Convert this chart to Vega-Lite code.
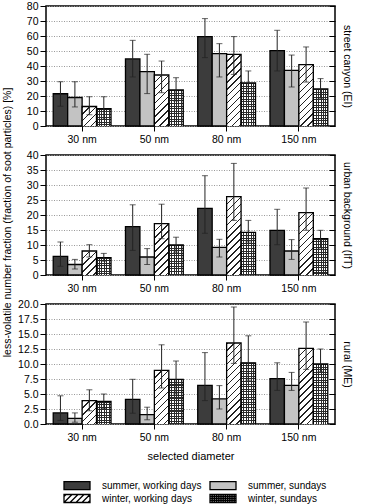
{
  "$schema": "https://vega.github.io/schema/vega-lite/v6.json",
  "padding": {"left": 1, "top": 0, "right": 0, "bottom": 0},
  "data": {
    "values": [
      {"site": "EI", "size": "30 nm", "series": "summer, working days", "value": 21.5, "lo": 13.2, "hi": 29.5},
      {"site": "EI", "size": "30 nm", "series": "summer, sundays", "value": 19, "lo": 12.7, "hi": 29.5},
      {"site": "EI", "size": "30 nm", "series": "winter, working days", "value": 13, "lo": 7.5, "hi": 19.5},
      {"site": "EI", "size": "30 nm", "series": "winter, sundays", "value": 11.5, "lo": 4.5, "hi": 19.5},
      {"site": "EI", "size": "50 nm", "series": "summer, working days", "value": 44.7, "lo": 32.7, "hi": 57.1},
      {"site": "EI", "size": "50 nm", "series": "summer, sundays", "value": 36.2, "lo": 21.6, "hi": 47.8},
      {"site": "EI", "size": "50 nm", "series": "winter, working days", "value": 34, "lo": 22.2, "hi": 43.3},
      {"site": "EI", "size": "50 nm", "series": "winter, sundays", "value": 24, "lo": 16.7, "hi": 32.2},
      {"site": "EI", "size": "80 nm", "series": "summer, working days", "value": 59.6, "lo": 45.6, "hi": 71.6},
      {"site": "EI", "size": "80 nm", "series": "summer, sundays", "value": 48.2, "lo": 32.7, "hi": 54.9},
      {"site": "EI", "size": "80 nm", "series": "winter, working days", "value": 47.8, "lo": 34.4, "hi": 59.6},
      {"site": "EI", "size": "80 nm", "series": "winter, sundays", "value": 28.7, "lo": 21.5, "hi": 36.7},
      {"site": "EI", "size": "150 nm", "series": "summer, working days", "value": 50.2, "lo": 36.7, "hi": 63.8},
      {"site": "EI", "size": "150 nm", "series": "summer, sundays", "value": 37.1, "lo": 26, "hi": 47.3},
      {"site": "EI", "size": "150 nm", "series": "winter, working days", "value": 40.9, "lo": 29.3, "hi": 52.7},
      {"site": "EI", "size": "150 nm", "series": "winter, sundays", "value": 24.7, "lo": 18.5, "hi": 31.6},
      {"site": "IfT", "size": "30 nm", "series": "summer, working days", "value": 6.2, "lo": 2.9, "hi": 11},
      {"site": "IfT", "size": "30 nm", "series": "summer, sundays", "value": 3.5, "lo": 2, "hi": 5.2},
      {"site": "IfT", "size": "30 nm", "series": "winter, working days", "value": 8, "lo": 6, "hi": 10.1},
      {"site": "IfT", "size": "30 nm", "series": "winter, sundays", "value": 5.8, "lo": 4.6, "hi": 7.2},
      {"site": "IfT", "size": "50 nm", "series": "summer, working days", "value": 16.1, "lo": 8.2, "hi": 23.4},
      {"site": "IfT", "size": "50 nm", "series": "summer, sundays", "value": 6, "lo": 3.5, "hi": 8.8},
      {"site": "IfT", "size": "50 nm", "series": "winter, working days", "value": 17.1, "lo": 12.1, "hi": 23.6},
      {"site": "IfT", "size": "50 nm", "series": "winter, sundays", "value": 10, "lo": 7.6, "hi": 12.6},
      {"site": "IfT", "size": "80 nm", "series": "summer, working days", "value": 22.2, "lo": 13.9, "hi": 33.1},
      {"site": "IfT", "size": "80 nm", "series": "summer, sundays", "value": 9.2, "lo": 6, "hi": 11.9},
      {"site": "IfT", "size": "80 nm", "series": "winter, working days", "value": 26.1, "lo": 18.2, "hi": 37.2},
      {"site": "IfT", "size": "80 nm", "series": "winter, sundays", "value": 14.2, "lo": 11, "hi": 18.2},
      {"site": "IfT", "size": "150 nm", "series": "summer, working days", "value": 14.9, "lo": 10.1, "hi": 21.9},
      {"site": "IfT", "size": "150 nm", "series": "summer, sundays", "value": 8, "lo": 5.2, "hi": 11.8},
      {"site": "IfT", "size": "150 nm", "series": "winter, working days", "value": 20.8, "lo": 14.9, "hi": 29},
      {"site": "IfT", "size": "150 nm", "series": "winter, sundays", "value": 12.1, "lo": 9, "hi": 14.9},
      {"site": "ME", "size": "30 nm", "series": "summer, working days", "value": 1.85, "lo": 0.6, "hi": 4.7},
      {"site": "ME", "size": "30 nm", "series": "summer, sundays", "value": 0.95, "lo": 0.3, "hi": 1.85},
      {"site": "ME", "size": "30 nm", "series": "winter, working days", "value": 3.9, "lo": 2.2, "hi": 5.7},
      {"site": "ME", "size": "30 nm", "series": "winter, sundays", "value": 3.75, "lo": 2.6, "hi": 5},
      {"site": "ME", "size": "50 nm", "series": "summer, working days", "value": 4.1, "lo": 1.8, "hi": 7.45},
      {"site": "ME", "size": "50 nm", "series": "summer, sundays", "value": 1.55, "lo": 0.7, "hi": 2.8},
      {"site": "ME", "size": "50 nm", "series": "winter, working days", "value": 8.95, "lo": 6, "hi": 13.2},
      {"site": "ME", "size": "50 nm", "series": "winter, sundays", "value": 7.45, "lo": 5, "hi": 10.5},
      {"site": "ME", "size": "80 nm", "series": "summer, working days", "value": 6.45, "lo": 3.9, "hi": 11.9},
      {"site": "ME", "size": "80 nm", "series": "summer, sundays", "value": 4.2, "lo": 2.5, "hi": 6.4},
      {"site": "ME", "size": "80 nm", "series": "winter, working days", "value": 13.5, "lo": 10.1, "hi": 19.5},
      {"site": "ME", "size": "80 nm", "series": "winter, sundays", "value": 10.2, "lo": 7.3, "hi": 14.7},
      {"site": "ME", "size": "150 nm", "series": "summer, working days", "value": 7.55, "lo": 5.6, "hi": 10.2},
      {"site": "ME", "size": "150 nm", "series": "summer, sundays", "value": 6.45, "lo": 5.6, "hi": 8.6},
      {"site": "ME", "size": "150 nm", "series": "winter, working days", "value": 12.6, "lo": 9.1, "hi": 17},
      {"site": "ME", "size": "150 nm", "series": "winter, sundays", "value": 10, "lo": 8.7, "hi": 12.5}
    ]
  },
  "bounds": "flush",
  "spacing": 29,
  "vconcat": [
    {
      "width": 289,
      "height": 120,
      "transform": [{"filter": "datum.site === 'EI'"}],
      "encoding": {
        "x": {"field": "size", "type": "nominal", "scale": {"domain": ["30 nm", "50 nm", "80 nm", "150 nm"], "paddingInner": 0.2, "paddingOuter": 0.1}, "axis": {"title": null}},
        "xOffset": {"field": "series", "type": "nominal", "scale": {"domain": ["summer, working days", "summer, sundays", "winter, working days", "winter, sundays"], "paddingInner": 0, "paddingOuter": 0}}
      },
      "resolve": {"axis": {"y": "independent"}},
      "layer": [
        {
          "transform": [{"filter": {"field": "series", "oneOf": ["summer, working days", "summer, sundays"]}}],
          "mark": {"type": "bar", "stroke": "#000", "strokeWidth": 1.3},
          "encoding": {
            "y": {"field": "value", "type": "quantitative", "scale": {"domain": [0, 80]}, "axis": {"title": null, "values": [0, 10, 20, 30, 40, 50, 60, 70, 80], "grid": true}},
            "fill": {"field": "series", "type": "nominal", "scale": {"domain": ["summer, working days", "summer, sundays", "winter, working days", "winter, sundays"], "range": ["#3c3c3c", "#c3c3c3", "#ffffff", "#ffffff"]}}
          }
        },
        {
          "transform": [{"filter": "datum.series === 'winter, working days'"}],
          "mark": {"type": "bar", "clip": true, "y2Offset": 130, "stroke": "#000", "strokeWidth": 1.3,
            "fill": {"gradient": "linear", "x1": 0, "y1": 0, "x2": 0.122, "y2": 1.098, "stops": [
              {"offset": 0, "color": "#222"}, {"offset": 0.01, "color": "#222"}, {"offset": 0.01, "color": "#fff"}, {"offset": 0.048, "color": "#fff"},
              {"offset": 0.048, "color": "#222"}, {"offset": 0.058, "color": "#222"}, {"offset": 0.058, "color": "#fff"}, {"offset": 0.096, "color": "#fff"},
              {"offset": 0.096, "color": "#222"}, {"offset": 0.106, "color": "#222"}, {"offset": 0.106, "color": "#fff"}, {"offset": 0.144, "color": "#fff"},
              {"offset": 0.144, "color": "#222"}, {"offset": 0.154, "color": "#222"}, {"offset": 0.154, "color": "#fff"}, {"offset": 0.192, "color": "#fff"},
              {"offset": 0.192, "color": "#222"}, {"offset": 0.202, "color": "#222"}, {"offset": 0.202, "color": "#fff"}, {"offset": 0.24, "color": "#fff"},
              {"offset": 0.24, "color": "#222"}, {"offset": 0.25, "color": "#222"}, {"offset": 0.25, "color": "#fff"}, {"offset": 0.288, "color": "#fff"},
              {"offset": 0.288, "color": "#222"}, {"offset": 0.298, "color": "#222"}, {"offset": 0.298, "color": "#fff"}, {"offset": 0.336, "color": "#fff"},
              {"offset": 0.336, "color": "#222"}, {"offset": 0.346, "color": "#222"}, {"offset": 0.346, "color": "#fff"}, {"offset": 0.384, "color": "#fff"},
              {"offset": 0.384, "color": "#222"}, {"offset": 0.394, "color": "#222"}, {"offset": 0.394, "color": "#fff"}, {"offset": 0.432, "color": "#fff"},
              {"offset": 0.432, "color": "#222"}, {"offset": 0.442, "color": "#222"}, {"offset": 0.442, "color": "#fff"}, {"offset": 0.48, "color": "#fff"},
              {"offset": 0.48, "color": "#222"}, {"offset": 0.49, "color": "#222"}, {"offset": 0.49, "color": "#fff"}, {"offset": 0.528, "color": "#fff"},
              {"offset": 0.528, "color": "#222"}, {"offset": 0.538, "color": "#222"}, {"offset": 0.538, "color": "#fff"}, {"offset": 0.576, "color": "#fff"},
              {"offset": 0.576, "color": "#222"}, {"offset": 0.586, "color": "#222"}, {"offset": 0.586, "color": "#fff"}, {"offset": 0.624, "color": "#fff"},
              {"offset": 0.624, "color": "#222"}, {"offset": 0.634, "color": "#222"}, {"offset": 0.634, "color": "#fff"}, {"offset": 0.672, "color": "#fff"},
              {"offset": 0.672, "color": "#222"}, {"offset": 0.682, "color": "#222"}, {"offset": 0.682, "color": "#fff"}, {"offset": 1, "color": "#fff"}]}},
          "encoding": {"y": {"field": "value", "type": "quantitative", "axis": null}, "y2": {"field": "value"}}
        },
        {
          "transform": [{"filter": "datum.series === 'winter, sundays'"}],
          "mark": {"type": "bar", "clip": true, "y2Offset": 130, "strokeWidth": 0,
            "fill": {"gradient": "linear", "x1": 0, "y1": 0, "x2": 0, "y2": 1, "stops": [
              {"offset": 0, "color": "#2a2a2a"}, {"offset": 0.008, "color": "#2a2a2a"}, {"offset": 0.008, "color": "#fff"}, {"offset": 0.02, "color": "#fff"},
              {"offset": 0.02, "color": "#2a2a2a"}, {"offset": 0.028, "color": "#2a2a2a"}, {"offset": 0.028, "color": "#fff"}, {"offset": 0.04, "color": "#fff"},
              {"offset": 0.04, "color": "#2a2a2a"}, {"offset": 0.048, "color": "#2a2a2a"}, {"offset": 0.048, "color": "#fff"}, {"offset": 0.06, "color": "#fff"},
              {"offset": 0.06, "color": "#2a2a2a"}, {"offset": 0.068, "color": "#2a2a2a"}, {"offset": 0.068, "color": "#fff"}, {"offset": 0.08, "color": "#fff"},
              {"offset": 0.08, "color": "#2a2a2a"}, {"offset": 0.088, "color": "#2a2a2a"}, {"offset": 0.088, "color": "#fff"}, {"offset": 0.1, "color": "#fff"},
              {"offset": 0.1, "color": "#2a2a2a"}, {"offset": 0.108, "color": "#2a2a2a"}, {"offset": 0.108, "color": "#fff"}, {"offset": 0.12, "color": "#fff"},
              {"offset": 0.12, "color": "#2a2a2a"}, {"offset": 0.128, "color": "#2a2a2a"}, {"offset": 0.128, "color": "#fff"}, {"offset": 0.14, "color": "#fff"},
              {"offset": 0.14, "color": "#2a2a2a"}, {"offset": 0.148, "color": "#2a2a2a"}, {"offset": 0.148, "color": "#fff"}, {"offset": 0.16, "color": "#fff"},
              {"offset": 0.16, "color": "#2a2a2a"}, {"offset": 0.168, "color": "#2a2a2a"}, {"offset": 0.168, "color": "#fff"}, {"offset": 0.18, "color": "#fff"},
              {"offset": 0.18, "color": "#2a2a2a"}, {"offset": 0.188, "color": "#2a2a2a"}, {"offset": 0.188, "color": "#fff"}, {"offset": 0.2, "color": "#fff"},
              {"offset": 0.2, "color": "#2a2a2a"}, {"offset": 0.208, "color": "#2a2a2a"}, {"offset": 0.208, "color": "#fff"}, {"offset": 0.22, "color": "#fff"},
              {"offset": 0.22, "color": "#2a2a2a"}, {"offset": 0.228, "color": "#2a2a2a"}, {"offset": 0.228, "color": "#fff"}, {"offset": 0.24, "color": "#fff"},
              {"offset": 0.24, "color": "#2a2a2a"}, {"offset": 0.248, "color": "#2a2a2a"}, {"offset": 0.248, "color": "#fff"}, {"offset": 0.26, "color": "#fff"},
              {"offset": 0.26, "color": "#2a2a2a"}, {"offset": 0.268, "color": "#2a2a2a"}, {"offset": 0.268, "color": "#fff"}, {"offset": 0.28, "color": "#fff"},
              {"offset": 0.28, "color": "#2a2a2a"}, {"offset": 0.288, "color": "#2a2a2a"}, {"offset": 0.288, "color": "#fff"}, {"offset": 0.3, "color": "#fff"},
              {"offset": 0.3, "color": "#2a2a2a"}, {"offset": 0.308, "color": "#2a2a2a"}, {"offset": 0.308, "color": "#fff"}, {"offset": 0.32, "color": "#fff"},
              {"offset": 0.32, "color": "#2a2a2a"}, {"offset": 0.328, "color": "#2a2a2a"}, {"offset": 0.328, "color": "#fff"}, {"offset": 0.34, "color": "#fff"},
              {"offset": 0.34, "color": "#2a2a2a"}, {"offset": 0.348, "color": "#2a2a2a"}, {"offset": 0.348, "color": "#fff"}, {"offset": 0.36, "color": "#fff"},
              {"offset": 0.36, "color": "#2a2a2a"}, {"offset": 0.368, "color": "#2a2a2a"}, {"offset": 0.368, "color": "#fff"}, {"offset": 0.38, "color": "#fff"},
              {"offset": 0.38, "color": "#2a2a2a"}, {"offset": 0.388, "color": "#2a2a2a"}, {"offset": 0.388, "color": "#fff"}, {"offset": 0.4, "color": "#fff"},
              {"offset": 0.4, "color": "#2a2a2a"}, {"offset": 0.408, "color": "#2a2a2a"}, {"offset": 0.408, "color": "#fff"}, {"offset": 0.42, "color": "#fff"},
              {"offset": 0.42, "color": "#2a2a2a"}, {"offset": 0.428, "color": "#2a2a2a"}, {"offset": 0.428, "color": "#fff"}, {"offset": 0.44, "color": "#fff"},
              {"offset": 0.44, "color": "#2a2a2a"}, {"offset": 0.448, "color": "#2a2a2a"}, {"offset": 0.448, "color": "#fff"}, {"offset": 0.46, "color": "#fff"},
              {"offset": 0.46, "color": "#2a2a2a"}, {"offset": 0.468, "color": "#2a2a2a"}, {"offset": 0.468, "color": "#fff"}, {"offset": 0.48, "color": "#fff"},
              {"offset": 0.48, "color": "#2a2a2a"}, {"offset": 0.488, "color": "#2a2a2a"}, {"offset": 0.488, "color": "#fff"}, {"offset": 1, "color": "#fff"}]}},
          "encoding": {"y": {"field": "value", "type": "quantitative", "axis": null}, "y2": {"field": "value"}}
        },
        {
          "transform": [{"filter": "datum.series === 'winter, sundays'"}],
          "mark": {"type": "bar", "clip": true, "y2Offset": 130, "stroke": "#000", "strokeWidth": 1.3,
            "fill": {"gradient": "linear", "x1": 0, "y1": 0, "x2": 1, "y2": 0, "stops": [
              {"offset": 0, "color": "rgba(42,42,42,1)"}, {"offset": 0.07, "color": "rgba(42,42,42,1)"}, {"offset": 0.07, "color": "rgba(42,42,42,0)"}, {"offset": 0.1667, "color": "rgba(42,42,42,0)"},
              {"offset": 0.1667, "color": "rgba(42,42,42,1)"}, {"offset": 0.2367, "color": "rgba(42,42,42,1)"}, {"offset": 0.2367, "color": "rgba(42,42,42,0)"}, {"offset": 0.3333, "color": "rgba(42,42,42,0)"},
              {"offset": 0.3333, "color": "rgba(42,42,42,1)"}, {"offset": 0.4033, "color": "rgba(42,42,42,1)"}, {"offset": 0.4033, "color": "rgba(42,42,42,0)"}, {"offset": 0.5, "color": "rgba(42,42,42,0)"},
              {"offset": 0.5, "color": "rgba(42,42,42,1)"}, {"offset": 0.57, "color": "rgba(42,42,42,1)"}, {"offset": 0.57, "color": "rgba(42,42,42,0)"}, {"offset": 0.6667, "color": "rgba(42,42,42,0)"},
              {"offset": 0.6667, "color": "rgba(42,42,42,1)"}, {"offset": 0.7367, "color": "rgba(42,42,42,1)"}, {"offset": 0.7367, "color": "rgba(42,42,42,0)"}, {"offset": 0.8333, "color": "rgba(42,42,42,0)"},
              {"offset": 0.8333, "color": "rgba(42,42,42,1)"}, {"offset": 0.9033, "color": "rgba(42,42,42,1)"}, {"offset": 0.9033, "color": "rgba(42,42,42,0)"}, {"offset": 1, "color": "rgba(42,42,42,0)"}]}},
          "encoding": {"y": {"field": "value", "type": "quantitative", "axis": null}, "y2": {"field": "value"}}
        },
        {
          "mark": {"type": "rule", "color": "#222", "strokeWidth": 1},
          "encoding": {
            "y": {"field": "lo", "type": "quantitative", "scale": {"domain": [0, 80]}, "axis": {"orient": "right", "title": "street canyon (EI)", "values": [0, 10, 20, 30, 40, 50, 60, 70, 80], "labels": false, "grid": false, "tickSize": -6, "titleAngle": 90, "titlePadding": 6}},
            "y2": {"field": "hi"}
          }
        },
        {
          "mark": {"type": "tick", "color": "#222", "thickness": 1, "size": 6},
          "encoding": {"y": {"field": "lo", "type": "quantitative", "axis": null}}
        },
        {
          "mark": {"type": "tick", "color": "#222", "thickness": 1, "size": 6},
          "encoding": {"y": {"field": "hi", "type": "quantitative", "axis": null}}
        }
      ]
    },
    {
      "width": 289,
      "height": 120,
      "transform": [{"filter": "datum.site === 'IfT'"}],
      "encoding": {
        "x": {"field": "size", "type": "nominal", "scale": {"domain": ["30 nm", "50 nm", "80 nm", "150 nm"], "paddingInner": 0.2, "paddingOuter": 0.1}, "axis": {"title": null}},
        "xOffset": {"field": "series", "type": "nominal", "scale": {"domain": ["summer, working days", "summer, sundays", "winter, working days", "winter, sundays"], "paddingInner": 0, "paddingOuter": 0}}
      },
      "resolve": {"axis": {"y": "independent"}},
      "layer": [
        {
          "transform": [{"filter": {"field": "series", "oneOf": ["summer, working days", "summer, sundays"]}}],
          "mark": {"type": "bar", "stroke": "#000", "strokeWidth": 1.3},
          "encoding": {
            "y": {"field": "value", "type": "quantitative", "scale": {"domain": [0, 40]}, "axis": {"title": "less-volatile number fraction (fraction of soot particles) [%]", "titlePadding": 14, "titleY": 67, "values": [0, 5, 10, 15, 20, 25, 30, 35, 40], "grid": true}},
            "fill": {"field": "series", "type": "nominal", "scale": {"domain": ["summer, working days", "summer, sundays", "winter, working days", "winter, sundays"], "range": ["#3c3c3c", "#c3c3c3", "#ffffff", "#ffffff"]}}
          }
        },
        {
          "transform": [{"filter": "datum.series === 'winter, working days'"}],
          "mark": {"type": "bar", "clip": true, "y2Offset": 130, "stroke": "#000", "strokeWidth": 1.3,
            "fill": {"gradient": "linear", "x1": 0, "y1": 0, "x2": 0.122, "y2": 1.098, "stops": [
              {"offset": 0, "color": "#222"}, {"offset": 0.01, "color": "#222"}, {"offset": 0.01, "color": "#fff"}, {"offset": 0.048, "color": "#fff"},
              {"offset": 0.048, "color": "#222"}, {"offset": 0.058, "color": "#222"}, {"offset": 0.058, "color": "#fff"}, {"offset": 0.096, "color": "#fff"},
              {"offset": 0.096, "color": "#222"}, {"offset": 0.106, "color": "#222"}, {"offset": 0.106, "color": "#fff"}, {"offset": 0.144, "color": "#fff"},
              {"offset": 0.144, "color": "#222"}, {"offset": 0.154, "color": "#222"}, {"offset": 0.154, "color": "#fff"}, {"offset": 0.192, "color": "#fff"},
              {"offset": 0.192, "color": "#222"}, {"offset": 0.202, "color": "#222"}, {"offset": 0.202, "color": "#fff"}, {"offset": 0.24, "color": "#fff"},
              {"offset": 0.24, "color": "#222"}, {"offset": 0.25, "color": "#222"}, {"offset": 0.25, "color": "#fff"}, {"offset": 0.288, "color": "#fff"},
              {"offset": 0.288, "color": "#222"}, {"offset": 0.298, "color": "#222"}, {"offset": 0.298, "color": "#fff"}, {"offset": 0.336, "color": "#fff"},
              {"offset": 0.336, "color": "#222"}, {"offset": 0.346, "color": "#222"}, {"offset": 0.346, "color": "#fff"}, {"offset": 0.384, "color": "#fff"},
              {"offset": 0.384, "color": "#222"}, {"offset": 0.394, "color": "#222"}, {"offset": 0.394, "color": "#fff"}, {"offset": 0.432, "color": "#fff"},
              {"offset": 0.432, "color": "#222"}, {"offset": 0.442, "color": "#222"}, {"offset": 0.442, "color": "#fff"}, {"offset": 0.48, "color": "#fff"},
              {"offset": 0.48, "color": "#222"}, {"offset": 0.49, "color": "#222"}, {"offset": 0.49, "color": "#fff"}, {"offset": 0.528, "color": "#fff"},
              {"offset": 0.528, "color": "#222"}, {"offset": 0.538, "color": "#222"}, {"offset": 0.538, "color": "#fff"}, {"offset": 0.576, "color": "#fff"},
              {"offset": 0.576, "color": "#222"}, {"offset": 0.586, "color": "#222"}, {"offset": 0.586, "color": "#fff"}, {"offset": 0.624, "color": "#fff"},
              {"offset": 0.624, "color": "#222"}, {"offset": 0.634, "color": "#222"}, {"offset": 0.634, "color": "#fff"}, {"offset": 0.672, "color": "#fff"},
              {"offset": 0.672, "color": "#222"}, {"offset": 0.682, "color": "#222"}, {"offset": 0.682, "color": "#fff"}, {"offset": 1, "color": "#fff"}]}},
          "encoding": {"y": {"field": "value", "type": "quantitative", "axis": null}, "y2": {"field": "value"}}
        },
        {
          "transform": [{"filter": "datum.series === 'winter, sundays'"}],
          "mark": {"type": "bar", "clip": true, "y2Offset": 130, "strokeWidth": 0,
            "fill": {"gradient": "linear", "x1": 0, "y1": 0, "x2": 0, "y2": 1, "stops": [
              {"offset": 0, "color": "#2a2a2a"}, {"offset": 0.008, "color": "#2a2a2a"}, {"offset": 0.008, "color": "#fff"}, {"offset": 0.02, "color": "#fff"},
              {"offset": 0.02, "color": "#2a2a2a"}, {"offset": 0.028, "color": "#2a2a2a"}, {"offset": 0.028, "color": "#fff"}, {"offset": 0.04, "color": "#fff"},
              {"offset": 0.04, "color": "#2a2a2a"}, {"offset": 0.048, "color": "#2a2a2a"}, {"offset": 0.048, "color": "#fff"}, {"offset": 0.06, "color": "#fff"},
              {"offset": 0.06, "color": "#2a2a2a"}, {"offset": 0.068, "color": "#2a2a2a"}, {"offset": 0.068, "color": "#fff"}, {"offset": 0.08, "color": "#fff"},
              {"offset": 0.08, "color": "#2a2a2a"}, {"offset": 0.088, "color": "#2a2a2a"}, {"offset": 0.088, "color": "#fff"}, {"offset": 0.1, "color": "#fff"},
              {"offset": 0.1, "color": "#2a2a2a"}, {"offset": 0.108, "color": "#2a2a2a"}, {"offset": 0.108, "color": "#fff"}, {"offset": 0.12, "color": "#fff"},
              {"offset": 0.12, "color": "#2a2a2a"}, {"offset": 0.128, "color": "#2a2a2a"}, {"offset": 0.128, "color": "#fff"}, {"offset": 0.14, "color": "#fff"},
              {"offset": 0.14, "color": "#2a2a2a"}, {"offset": 0.148, "color": "#2a2a2a"}, {"offset": 0.148, "color": "#fff"}, {"offset": 0.16, "color": "#fff"},
              {"offset": 0.16, "color": "#2a2a2a"}, {"offset": 0.168, "color": "#2a2a2a"}, {"offset": 0.168, "color": "#fff"}, {"offset": 0.18, "color": "#fff"},
              {"offset": 0.18, "color": "#2a2a2a"}, {"offset": 0.188, "color": "#2a2a2a"}, {"offset": 0.188, "color": "#fff"}, {"offset": 0.2, "color": "#fff"},
              {"offset": 0.2, "color": "#2a2a2a"}, {"offset": 0.208, "color": "#2a2a2a"}, {"offset": 0.208, "color": "#fff"}, {"offset": 0.22, "color": "#fff"},
              {"offset": 0.22, "color": "#2a2a2a"}, {"offset": 0.228, "color": "#2a2a2a"}, {"offset": 0.228, "color": "#fff"}, {"offset": 0.24, "color": "#fff"},
              {"offset": 0.24, "color": "#2a2a2a"}, {"offset": 0.248, "color": "#2a2a2a"}, {"offset": 0.248, "color": "#fff"}, {"offset": 0.26, "color": "#fff"},
              {"offset": 0.26, "color": "#2a2a2a"}, {"offset": 0.268, "color": "#2a2a2a"}, {"offset": 0.268, "color": "#fff"}, {"offset": 0.28, "color": "#fff"},
              {"offset": 0.28, "color": "#2a2a2a"}, {"offset": 0.288, "color": "#2a2a2a"}, {"offset": 0.288, "color": "#fff"}, {"offset": 0.3, "color": "#fff"},
              {"offset": 0.3, "color": "#2a2a2a"}, {"offset": 0.308, "color": "#2a2a2a"}, {"offset": 0.308, "color": "#fff"}, {"offset": 0.32, "color": "#fff"},
              {"offset": 0.32, "color": "#2a2a2a"}, {"offset": 0.328, "color": "#2a2a2a"}, {"offset": 0.328, "color": "#fff"}, {"offset": 0.34, "color": "#fff"},
              {"offset": 0.34, "color": "#2a2a2a"}, {"offset": 0.348, "color": "#2a2a2a"}, {"offset": 0.348, "color": "#fff"}, {"offset": 0.36, "color": "#fff"},
              {"offset": 0.36, "color": "#2a2a2a"}, {"offset": 0.368, "color": "#2a2a2a"}, {"offset": 0.368, "color": "#fff"}, {"offset": 0.38, "color": "#fff"},
              {"offset": 0.38, "color": "#2a2a2a"}, {"offset": 0.388, "color": "#2a2a2a"}, {"offset": 0.388, "color": "#fff"}, {"offset": 0.4, "color": "#fff"},
              {"offset": 0.4, "color": "#2a2a2a"}, {"offset": 0.408, "color": "#2a2a2a"}, {"offset": 0.408, "color": "#fff"}, {"offset": 0.42, "color": "#fff"},
              {"offset": 0.42, "color": "#2a2a2a"}, {"offset": 0.428, "color": "#2a2a2a"}, {"offset": 0.428, "color": "#fff"}, {"offset": 0.44, "color": "#fff"},
              {"offset": 0.44, "color": "#2a2a2a"}, {"offset": 0.448, "color": "#2a2a2a"}, {"offset": 0.448, "color": "#fff"}, {"offset": 0.46, "color": "#fff"},
              {"offset": 0.46, "color": "#2a2a2a"}, {"offset": 0.468, "color": "#2a2a2a"}, {"offset": 0.468, "color": "#fff"}, {"offset": 0.48, "color": "#fff"},
              {"offset": 0.48, "color": "#2a2a2a"}, {"offset": 0.488, "color": "#2a2a2a"}, {"offset": 0.488, "color": "#fff"}, {"offset": 1, "color": "#fff"}]}},
          "encoding": {"y": {"field": "value", "type": "quantitative", "axis": null}, "y2": {"field": "value"}}
        },
        {
          "transform": [{"filter": "datum.series === 'winter, sundays'"}],
          "mark": {"type": "bar", "clip": true, "y2Offset": 130, "stroke": "#000", "strokeWidth": 1.3,
            "fill": {"gradient": "linear", "x1": 0, "y1": 0, "x2": 1, "y2": 0, "stops": [
              {"offset": 0, "color": "rgba(42,42,42,1)"}, {"offset": 0.07, "color": "rgba(42,42,42,1)"}, {"offset": 0.07, "color": "rgba(42,42,42,0)"}, {"offset": 0.1667, "color": "rgba(42,42,42,0)"},
              {"offset": 0.1667, "color": "rgba(42,42,42,1)"}, {"offset": 0.2367, "color": "rgba(42,42,42,1)"}, {"offset": 0.2367, "color": "rgba(42,42,42,0)"}, {"offset": 0.3333, "color": "rgba(42,42,42,0)"},
              {"offset": 0.3333, "color": "rgba(42,42,42,1)"}, {"offset": 0.4033, "color": "rgba(42,42,42,1)"}, {"offset": 0.4033, "color": "rgba(42,42,42,0)"}, {"offset": 0.5, "color": "rgba(42,42,42,0)"},
              {"offset": 0.5, "color": "rgba(42,42,42,1)"}, {"offset": 0.57, "color": "rgba(42,42,42,1)"}, {"offset": 0.57, "color": "rgba(42,42,42,0)"}, {"offset": 0.6667, "color": "rgba(42,42,42,0)"},
              {"offset": 0.6667, "color": "rgba(42,42,42,1)"}, {"offset": 0.7367, "color": "rgba(42,42,42,1)"}, {"offset": 0.7367, "color": "rgba(42,42,42,0)"}, {"offset": 0.8333, "color": "rgba(42,42,42,0)"},
              {"offset": 0.8333, "color": "rgba(42,42,42,1)"}, {"offset": 0.9033, "color": "rgba(42,42,42,1)"}, {"offset": 0.9033, "color": "rgba(42,42,42,0)"}, {"offset": 1, "color": "rgba(42,42,42,0)"}]}},
          "encoding": {"y": {"field": "value", "type": "quantitative", "axis": null}, "y2": {"field": "value"}}
        },
        {
          "mark": {"type": "rule", "color": "#222", "strokeWidth": 1},
          "encoding": {
            "y": {"field": "lo", "type": "quantitative", "scale": {"domain": [0, 40]}, "axis": {"orient": "right", "title": "urban background (IfT)", "values": [0, 5, 10, 15, 20, 25, 30, 35, 40], "labels": false, "grid": false, "tickSize": -6, "titleAngle": 90, "titlePadding": 6}},
            "y2": {"field": "hi"}
          }
        },
        {
          "mark": {"type": "tick", "color": "#222", "thickness": 1, "size": 6},
          "encoding": {"y": {"field": "lo", "type": "quantitative", "axis": null}}
        },
        {
          "mark": {"type": "tick", "color": "#222", "thickness": 1, "size": 6},
          "encoding": {"y": {"field": "hi", "type": "quantitative", "axis": null}}
        }
      ]
    },
    {
      "width": 289,
      "height": 120,
      "transform": [{"filter": "datum.site === 'ME'"}],
      "encoding": {
        "x": {"field": "size", "type": "nominal", "scale": {"domain": ["30 nm", "50 nm", "80 nm", "150 nm"], "paddingInner": 0.2, "paddingOuter": 0.1}, "axis": {"title": "selected diameter", "titlePadding": 8}},
        "xOffset": {"field": "series", "type": "nominal", "scale": {"domain": ["summer, working days", "summer, sundays", "winter, working days", "winter, sundays"], "paddingInner": 0, "paddingOuter": 0}}
      },
      "resolve": {"axis": {"y": "independent"}},
      "layer": [
        {
          "transform": [{"filter": {"field": "series", "oneOf": ["summer, working days", "summer, sundays"]}}],
          "mark": {"type": "bar", "stroke": "#000", "strokeWidth": 1.3},
          "encoding": {
            "y": {"field": "value", "type": "quantitative", "scale": {"domain": [0, 20]}, "axis": {"title": null, "format": ".1f", "values": [0, 2.5, 5, 7.5, 10, 12.5, 15, 17.5, 20], "grid": true}},
            "fill": {
              "field": "series", "type": "nominal",
              "scale": {"domain": ["summer, working days", "summer, sundays", "winter, working days", "winter, sundays"], "range": ["#3c3c3c", "#c3c3c3", "#ffffff", "#ffffff"]},
              "legend": {
                "orient": "none", "legendX": 18, "legendY": 474.5, "columns": 2, "direction": "horizontal", "title": null,
                "labelFontSize": 10, "labelColor": "#000", "labelOffset": 20, "symbolOffset": 8,
                "symbolSize": 64, "symbolStrokeColor": "#000", "symbolStrokeWidth": 1.3,
                "columnPadding": 5, "rowPadding": -1,
                "encode": {
                  "symbols": {
                    "update": {
                      "shape": [
                        {"test": "datum.value === 'winter, working days'", "value": "M-3.25,-1H3.25V1H-3.25ZM-3.25,-0.5L-2.75,-1M-3.25,1L-1.25,-1M-1.75,1L0.25,-1M-0.25,1L1.75,-1M1.25,1L3.25,-1M2.75,1L3.25,0.5"},
                        {"test": "datum.value === 'winter, sundays'", "value": "M-3.25,-1H3.25V1H-3.25ZM-2.7,-1V1M-2.15,-1V1M-1.6,-1V1M-1.05,-1V1M-0.5,-1V1M0.05,-1V1M0.6,-1V1M1.15,-1V1M1.7,-1V1M2.25,-1V1M2.8,-1V1M-3.25,-0.5H3.25M-3.25,0H3.25M-3.25,0.5H3.25"},
                        {"value": "M-3.25,-1H3.25V1H-3.25Z"}
                      ]
                    }
                  }
                }
              }
            }
          }
        },
        {
          "transform": [{"filter": "datum.series === 'winter, working days'"}],
          "mark": {"type": "bar", "clip": true, "y2Offset": 130, "stroke": "#000", "strokeWidth": 1.3,
            "fill": {"gradient": "linear", "x1": 0, "y1": 0, "x2": 0.122, "y2": 1.098, "stops": [
              {"offset": 0, "color": "#222"}, {"offset": 0.01, "color": "#222"}, {"offset": 0.01, "color": "#fff"}, {"offset": 0.048, "color": "#fff"},
              {"offset": 0.048, "color": "#222"}, {"offset": 0.058, "color": "#222"}, {"offset": 0.058, "color": "#fff"}, {"offset": 0.096, "color": "#fff"},
              {"offset": 0.096, "color": "#222"}, {"offset": 0.106, "color": "#222"}, {"offset": 0.106, "color": "#fff"}, {"offset": 0.144, "color": "#fff"},
              {"offset": 0.144, "color": "#222"}, {"offset": 0.154, "color": "#222"}, {"offset": 0.154, "color": "#fff"}, {"offset": 0.192, "color": "#fff"},
              {"offset": 0.192, "color": "#222"}, {"offset": 0.202, "color": "#222"}, {"offset": 0.202, "color": "#fff"}, {"offset": 0.24, "color": "#fff"},
              {"offset": 0.24, "color": "#222"}, {"offset": 0.25, "color": "#222"}, {"offset": 0.25, "color": "#fff"}, {"offset": 0.288, "color": "#fff"},
              {"offset": 0.288, "color": "#222"}, {"offset": 0.298, "color": "#222"}, {"offset": 0.298, "color": "#fff"}, {"offset": 0.336, "color": "#fff"},
              {"offset": 0.336, "color": "#222"}, {"offset": 0.346, "color": "#222"}, {"offset": 0.346, "color": "#fff"}, {"offset": 0.384, "color": "#fff"},
              {"offset": 0.384, "color": "#222"}, {"offset": 0.394, "color": "#222"}, {"offset": 0.394, "color": "#fff"}, {"offset": 0.432, "color": "#fff"},
              {"offset": 0.432, "color": "#222"}, {"offset": 0.442, "color": "#222"}, {"offset": 0.442, "color": "#fff"}, {"offset": 0.48, "color": "#fff"},
              {"offset": 0.48, "color": "#222"}, {"offset": 0.49, "color": "#222"}, {"offset": 0.49, "color": "#fff"}, {"offset": 0.528, "color": "#fff"},
              {"offset": 0.528, "color": "#222"}, {"offset": 0.538, "color": "#222"}, {"offset": 0.538, "color": "#fff"}, {"offset": 0.576, "color": "#fff"},
              {"offset": 0.576, "color": "#222"}, {"offset": 0.586, "color": "#222"}, {"offset": 0.586, "color": "#fff"}, {"offset": 0.624, "color": "#fff"},
              {"offset": 0.624, "color": "#222"}, {"offset": 0.634, "color": "#222"}, {"offset": 0.634, "color": "#fff"}, {"offset": 0.672, "color": "#fff"},
              {"offset": 0.672, "color": "#222"}, {"offset": 0.682, "color": "#222"}, {"offset": 0.682, "color": "#fff"}, {"offset": 1, "color": "#fff"}]}},
          "encoding": {"y": {"field": "value", "type": "quantitative", "axis": null}, "y2": {"field": "value"}}
        },
        {
          "transform": [{"filter": "datum.series === 'winter, sundays'"}],
          "mark": {"type": "bar", "clip": true, "y2Offset": 130, "strokeWidth": 0,
            "fill": {"gradient": "linear", "x1": 0, "y1": 0, "x2": 0, "y2": 1, "stops": [
              {"offset": 0, "color": "#2a2a2a"}, {"offset": 0.008, "color": "#2a2a2a"}, {"offset": 0.008, "color": "#fff"}, {"offset": 0.02, "color": "#fff"},
              {"offset": 0.02, "color": "#2a2a2a"}, {"offset": 0.028, "color": "#2a2a2a"}, {"offset": 0.028, "color": "#fff"}, {"offset": 0.04, "color": "#fff"},
              {"offset": 0.04, "color": "#2a2a2a"}, {"offset": 0.048, "color": "#2a2a2a"}, {"offset": 0.048, "color": "#fff"}, {"offset": 0.06, "color": "#fff"},
              {"offset": 0.06, "color": "#2a2a2a"}, {"offset": 0.068, "color": "#2a2a2a"}, {"offset": 0.068, "color": "#fff"}, {"offset": 0.08, "color": "#fff"},
              {"offset": 0.08, "color": "#2a2a2a"}, {"offset": 0.088, "color": "#2a2a2a"}, {"offset": 0.088, "color": "#fff"}, {"offset": 0.1, "color": "#fff"},
              {"offset": 0.1, "color": "#2a2a2a"}, {"offset": 0.108, "color": "#2a2a2a"}, {"offset": 0.108, "color": "#fff"}, {"offset": 0.12, "color": "#fff"},
              {"offset": 0.12, "color": "#2a2a2a"}, {"offset": 0.128, "color": "#2a2a2a"}, {"offset": 0.128, "color": "#fff"}, {"offset": 0.14, "color": "#fff"},
              {"offset": 0.14, "color": "#2a2a2a"}, {"offset": 0.148, "color": "#2a2a2a"}, {"offset": 0.148, "color": "#fff"}, {"offset": 0.16, "color": "#fff"},
              {"offset": 0.16, "color": "#2a2a2a"}, {"offset": 0.168, "color": "#2a2a2a"}, {"offset": 0.168, "color": "#fff"}, {"offset": 0.18, "color": "#fff"},
              {"offset": 0.18, "color": "#2a2a2a"}, {"offset": 0.188, "color": "#2a2a2a"}, {"offset": 0.188, "color": "#fff"}, {"offset": 0.2, "color": "#fff"},
              {"offset": 0.2, "color": "#2a2a2a"}, {"offset": 0.208, "color": "#2a2a2a"}, {"offset": 0.208, "color": "#fff"}, {"offset": 0.22, "color": "#fff"},
              {"offset": 0.22, "color": "#2a2a2a"}, {"offset": 0.228, "color": "#2a2a2a"}, {"offset": 0.228, "color": "#fff"}, {"offset": 0.24, "color": "#fff"},
              {"offset": 0.24, "color": "#2a2a2a"}, {"offset": 0.248, "color": "#2a2a2a"}, {"offset": 0.248, "color": "#fff"}, {"offset": 0.26, "color": "#fff"},
              {"offset": 0.26, "color": "#2a2a2a"}, {"offset": 0.268, "color": "#2a2a2a"}, {"offset": 0.268, "color": "#fff"}, {"offset": 0.28, "color": "#fff"},
              {"offset": 0.28, "color": "#2a2a2a"}, {"offset": 0.288, "color": "#2a2a2a"}, {"offset": 0.288, "color": "#fff"}, {"offset": 0.3, "color": "#fff"},
              {"offset": 0.3, "color": "#2a2a2a"}, {"offset": 0.308, "color": "#2a2a2a"}, {"offset": 0.308, "color": "#fff"}, {"offset": 0.32, "color": "#fff"},
              {"offset": 0.32, "color": "#2a2a2a"}, {"offset": 0.328, "color": "#2a2a2a"}, {"offset": 0.328, "color": "#fff"}, {"offset": 0.34, "color": "#fff"},
              {"offset": 0.34, "color": "#2a2a2a"}, {"offset": 0.348, "color": "#2a2a2a"}, {"offset": 0.348, "color": "#fff"}, {"offset": 0.36, "color": "#fff"},
              {"offset": 0.36, "color": "#2a2a2a"}, {"offset": 0.368, "color": "#2a2a2a"}, {"offset": 0.368, "color": "#fff"}, {"offset": 0.38, "color": "#fff"},
              {"offset": 0.38, "color": "#2a2a2a"}, {"offset": 0.388, "color": "#2a2a2a"}, {"offset": 0.388, "color": "#fff"}, {"offset": 0.4, "color": "#fff"},
              {"offset": 0.4, "color": "#2a2a2a"}, {"offset": 0.408, "color": "#2a2a2a"}, {"offset": 0.408, "color": "#fff"}, {"offset": 0.42, "color": "#fff"},
              {"offset": 0.42, "color": "#2a2a2a"}, {"offset": 0.428, "color": "#2a2a2a"}, {"offset": 0.428, "color": "#fff"}, {"offset": 0.44, "color": "#fff"},
              {"offset": 0.44, "color": "#2a2a2a"}, {"offset": 0.448, "color": "#2a2a2a"}, {"offset": 0.448, "color": "#fff"}, {"offset": 0.46, "color": "#fff"},
              {"offset": 0.46, "color": "#2a2a2a"}, {"offset": 0.468, "color": "#2a2a2a"}, {"offset": 0.468, "color": "#fff"}, {"offset": 0.48, "color": "#fff"},
              {"offset": 0.48, "color": "#2a2a2a"}, {"offset": 0.488, "color": "#2a2a2a"}, {"offset": 0.488, "color": "#fff"}, {"offset": 1, "color": "#fff"}]}},
          "encoding": {"y": {"field": "value", "type": "quantitative", "axis": null}, "y2": {"field": "value"}}
        },
        {
          "transform": [{"filter": "datum.series === 'winter, sundays'"}],
          "mark": {"type": "bar", "clip": true, "y2Offset": 130, "stroke": "#000", "strokeWidth": 1.3,
            "fill": {"gradient": "linear", "x1": 0, "y1": 0, "x2": 1, "y2": 0, "stops": [
              {"offset": 0, "color": "rgba(42,42,42,1)"}, {"offset": 0.07, "color": "rgba(42,42,42,1)"}, {"offset": 0.07, "color": "rgba(42,42,42,0)"}, {"offset": 0.1667, "color": "rgba(42,42,42,0)"},
              {"offset": 0.1667, "color": "rgba(42,42,42,1)"}, {"offset": 0.2367, "color": "rgba(42,42,42,1)"}, {"offset": 0.2367, "color": "rgba(42,42,42,0)"}, {"offset": 0.3333, "color": "rgba(42,42,42,0)"},
              {"offset": 0.3333, "color": "rgba(42,42,42,1)"}, {"offset": 0.4033, "color": "rgba(42,42,42,1)"}, {"offset": 0.4033, "color": "rgba(42,42,42,0)"}, {"offset": 0.5, "color": "rgba(42,42,42,0)"},
              {"offset": 0.5, "color": "rgba(42,42,42,1)"}, {"offset": 0.57, "color": "rgba(42,42,42,1)"}, {"offset": 0.57, "color": "rgba(42,42,42,0)"}, {"offset": 0.6667, "color": "rgba(42,42,42,0)"},
              {"offset": 0.6667, "color": "rgba(42,42,42,1)"}, {"offset": 0.7367, "color": "rgba(42,42,42,1)"}, {"offset": 0.7367, "color": "rgba(42,42,42,0)"}, {"offset": 0.8333, "color": "rgba(42,42,42,0)"},
              {"offset": 0.8333, "color": "rgba(42,42,42,1)"}, {"offset": 0.9033, "color": "rgba(42,42,42,1)"}, {"offset": 0.9033, "color": "rgba(42,42,42,0)"}, {"offset": 1, "color": "rgba(42,42,42,0)"}]}},
          "encoding": {"y": {"field": "value", "type": "quantitative", "axis": null}, "y2": {"field": "value"}}
        },
        {
          "mark": {"type": "rule", "color": "#222", "strokeWidth": 1},
          "encoding": {
            "y": {"field": "lo", "type": "quantitative", "scale": {"domain": [0, 20]}, "axis": {"orient": "right", "title": "rural (ME)", "values": [0, 2.5, 5, 7.5, 10, 12.5, 15, 17.5, 20], "labels": false, "grid": false, "tickSize": -6, "titleAngle": 90, "titlePadding": 6}},
            "y2": {"field": "hi"}
          }
        },
        {
          "mark": {"type": "tick", "color": "#222", "thickness": 1, "size": 6},
          "encoding": {"y": {"field": "lo", "type": "quantitative", "axis": null}}
        },
        {
          "mark": {"type": "tick", "color": "#222", "thickness": 1, "size": 6},
          "encoding": {"y": {"field": "hi", "type": "quantitative", "axis": null}}
        }
      ]
    }
  ],
  "config": {
    "font": "Liberation Sans",
    "view": {"stroke": "#000", "strokeWidth": 1.5},
    "axis": {
      "domain": false, "ticks": true, "tickColor": "#000", "tickWidth": 1,
      "labelColor": "#000", "labelFontSize": 10.5, "labelPadding": 2,
      "titleColor": "#000", "titleFontSize": 10.5, "titleFontWeight": "normal",
      "gridColor": "#999", "gridDash": [1, 1.5], "gridWidth": 1
    },
    "axisX": {"tickSize": 5, "labelAngle": 0, "labelPadding": 3, "grid": false, "titleFontSize": 11},
    "axisY": {"tickSize": 6}
  }
}
